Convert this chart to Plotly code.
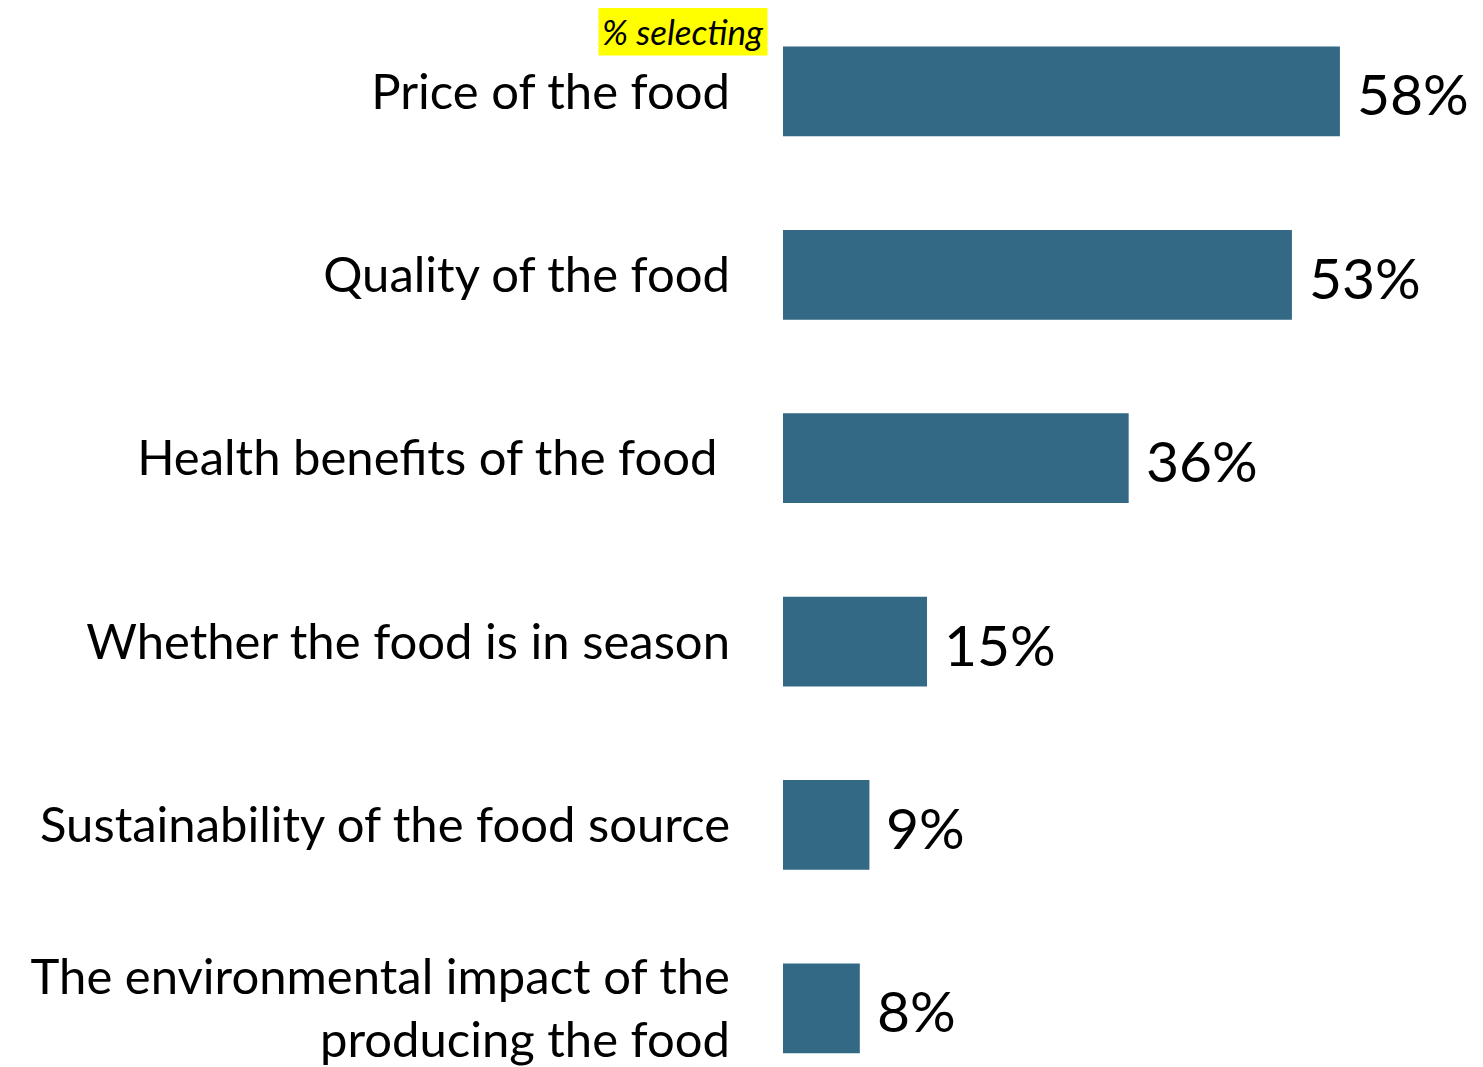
import plotly.graph_objects as go

# survey answers, top to bottom
categories = [
    "Price of the food",
    "Quality of the food",
    "Health benefits of the food ",
    "Whether the food is in season",
    "Sustainability of the food source",
    "The environmental impact of the<br>producing the food",
]
pct_selecting = [58, 53, 36, 15, 9, 8]
value_labels = [f"{v}%" for v in pct_selecting]

BAR_COLOR = "#336985"
FONT = "Lato, 'Open Sans', sans-serif"

fig = go.Figure()
fig.add_trace(go.Bar(
    x=pct_selecting,
    y=categories,
    orientation="h",
    marker=dict(color=BAR_COLOR, line=dict(width=0)),
    width=0.49,
    hoverinfo="x+y",
))

# value labels just right of each bar end
annotations = [
    dict(x=v, y=c, text=t, xref="x", yref="y",
         xanchor="left", yanchor="middle", xshift=15, yshift=-2,
         showarrow=False, font=dict(size=57, family=FONT, color="black"))
    for v, c, t in zip(pct_selecting, categories, value_labels)
]
annotations.append(dict(
    text="<i>% selecting</i>",
    xref="paper", yref="paper",
    x=-0.0214, y=0.978,
    xanchor="right", yanchor="middle",
    showarrow=False,
    bgcolor="#ffff00",
    font=dict(size=35, family=FONT, color="black"),
    borderpad=3,
))

# page body has an 8px margin, so the figure is sized to fit the window
fig.update_layout(
    width=1475,
    height=1059,
    margin=dict(l=775, r=0, t=0, b=0),
    paper_bgcolor="white",
    plot_bgcolor="white",
    showlegend=False,
    font=dict(family=FONT, color="black"),
    xaxis=dict(range=[0, 72.9], visible=False),
    yaxis=dict(
        range=[5.26, -0.455],
        showgrid=False,
        zeroline=False,
        showline=False,
        ticks="",
        ticklabelstandoff=52,
        tickfont=dict(size=49, family=FONT, color="black"),
    ),
    annotations=annotations,
)

fig.write_html("out.html")
